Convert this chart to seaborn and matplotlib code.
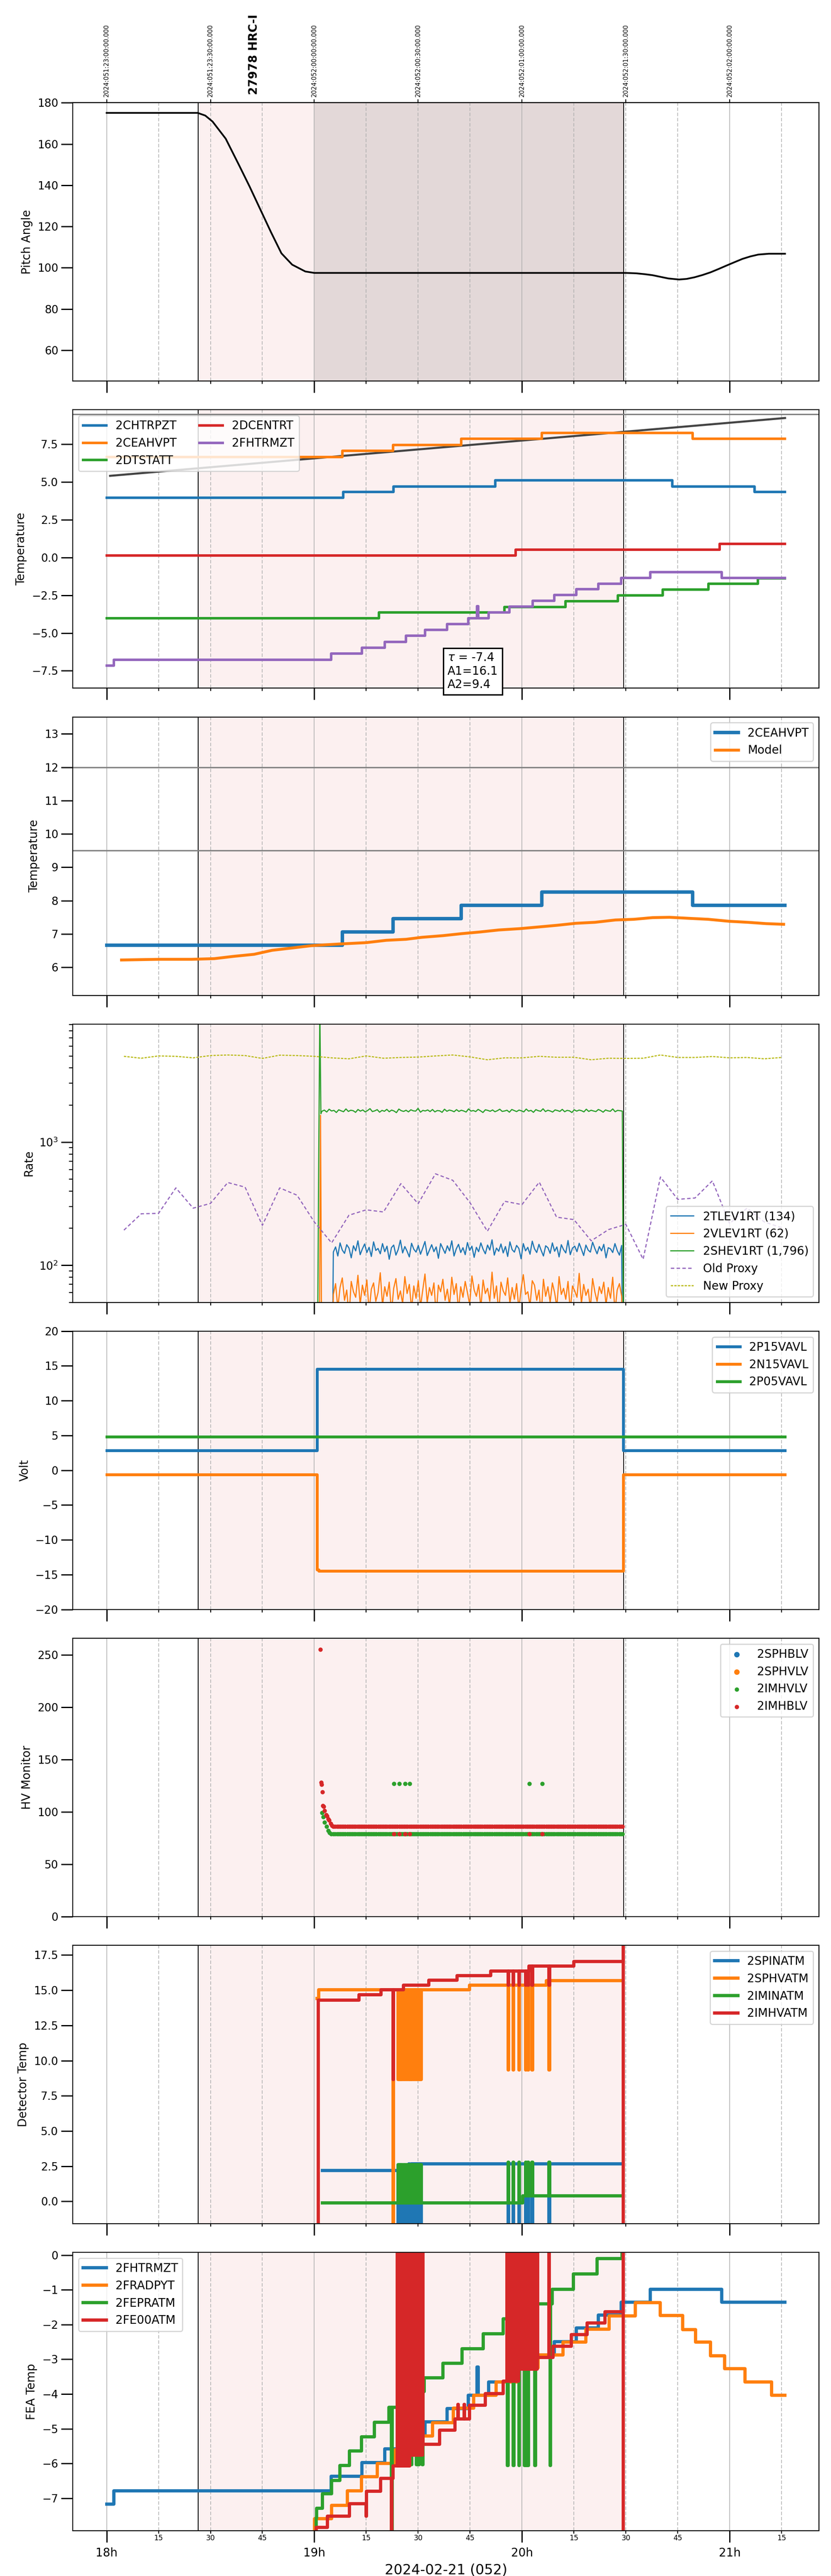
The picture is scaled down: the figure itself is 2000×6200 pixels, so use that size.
import numpy as np
import matplotlib
matplotlib.use("Agg")
import matplotlib.pyplot as plt
import matplotlib.transforms as mtransforms
from matplotlib.ticker import FixedLocator, FixedFormatter
import seaborn as sns

plt.rcParams["font.family"] = ["DejaVu Sans"]

# ---------------------------------------------------------------- data
# x values: minutes after 18:00 local time on 2024-02-21 (day 052)
obs_start, obs_end = 26.4, 149.4
science_start = 60.0
obs_title = "27978 HRC-I"
hour_ticks = [0, 60, 120, 180]
hour_labels = ["18h", "19h", "20h", "21h"]
quarter_ticks = [15, 30, 45, 75, 90, 105, 135, 150, 165, 195]
quarter_labels = ["15", "30", "45", "15", "30", "45", "15", "30", "45", "15"]
utc_ticks = [0, 30, 60, 90, 120, 150, 180]
utc_labels = ["2024:051:23:00:00.000", "2024:051:23:30:00.000",
              "2024:052:00:00:00.000", "2024:052:00:30:00.000",
              "2024:052:01:00:00.000", "2024:052:01:30:00.000",
              "2024:052:02:00:00.000"]
xlabel_text = "2024-02-21 (052)"

# panel 1 : pitch
pitch_t = [0, 10, 20, 26.3, 28.5, 30.6, 34.4, 38.3, 41.3, 44.4, 47.5, 50.5, 53.6,
           57.4, 60, 90, 120, 150, 153, 155.4, 157.7, 160, 162.3, 165.4, 167.6,
           169.9, 172.2, 174.5, 176.8, 179, 181.4, 183.7, 186, 188.3, 191.3, 196]
pitch_v = [175.1, 175.1, 175.1, 175.1, 173.8, 170.9, 162.6, 149.6, 139.4, 128.3,
           117.2, 107.0, 101.5, 98.2, 97.5, 97.5, 97.5, 97.5, 97.3, 96.9, 96.4,
           95.6, 94.8, 94.3, 94.6, 95.4, 96.5, 97.8, 99.4, 101.0, 102.7, 104.3,
           105.5, 106.4, 106.8, 106.8]

# panel 2 : temperatures
trend_t = [1.0, 196.0]
trend_v = [5.41, 9.24]
limit_lines = [12.0, 9.5]
chtrpzt_t = [0, 68.4, 82.9, 112.3, 163.4, 187.2, 196]
chtrpzt_v = [3.96, 4.34, 4.71, 5.11, 4.71, 4.33, 4.33]
ceahvpt_t = [0, 68.1, 82.8, 102.4, 125.7, 169.3, 196]
ceahvpt_v = [6.66, 7.06, 7.46, 7.86, 8.26, 7.86, 7.86]
dtstatt_t = [0, 78.7, 114.9, 132.6, 147.7, 160.7, 173.9, 188.2, 196]
dtstatt_v = [-4.03, -3.65, -3.27, -2.89, -2.51, -2.13, -1.73, -1.37, -1.37]
dcentrt_t = [0, 118.2, 177.1, 196]
dcentrt_v = [0.14, 0.52, 0.90, 0.90]
fhtrmzt_t = [0, 2.1, 64.9, 73.8, 80.4, 86.5, 92.0, 98.4, 104.5, 107.0, 107.4, 110.4,
             116.4, 123.1, 129.3, 135.7, 142.1, 148.7, 157.1, 177.7, 196]
fhtrmzt_v = [-7.17, -6.78, -6.37, -5.97, -5.58, -5.19, -4.80, -4.42, -4.03, -3.22,
             -4.03, -3.65, -3.26, -2.87, -2.49, -2.10, -1.73, -1.36, -0.98, -1.36, -1.36]
fit_text = "$\\tau$ = -7.4\nA1=16.1\nA2=9.4"

# panel 3 : model
model_t = [4.3, 15.3, 24.5, 31.1, 36.8, 42.6, 47.8, 53.6, 59.2, 67.4, 75.0, 80.8,
           86.5, 91.1, 97.2, 102.6, 107.9, 113.3, 119.4, 124.8, 130.1, 135.5, 141.1,
           147.0, 152.3, 157.7, 162.6, 168.1, 173.8, 179.9, 185.2, 190.6, 195.6]
model_v = [6.22, 6.24, 6.24, 6.26, 6.33, 6.39, 6.51, 6.58, 6.65, 6.70, 6.74, 6.81,
           6.84, 6.90, 6.95, 7.01, 7.06, 7.12, 7.16, 7.21, 7.26, 7.32, 7.35, 7.42,
           7.44, 7.49, 7.50, 7.47, 7.44, 7.38, 7.35, 7.31, 7.29]

# panel 4 : rates
tlev_lead_t = [65.3]
tlev_lead_v = [30]
tlev_noise = [128, 141, 119, 152, 133, 125, 147, 138, 115, 144, 131, 158, 122, 136, 149, 127, 140, 118, 155, 132,
              137, 124, 150, 129, 143, 112, 139, 146, 121, 134, 160, 126, 142, 130, 117, 151, 135, 128, 145, 123,
              138, 156, 120, 133, 147, 129, 141, 114, 150, 137, 125, 144, 131, 158, 119, 136, 148, 127, 139, 122,
              153, 132, 143, 116, 140, 129, 152, 135, 124, 146, 133, 161, 121, 138, 130, 149, 126, 142, 118, 155,
              134, 128, 145, 137, 113, 150, 131, 140, 123, 157, 136, 127, 148, 132, 119, 144, 139, 125, 152, 130,
              141, 117, 147, 134, 126, 159, 122, 138, 143, 129, 151, 135, 120, 146, 133, 128, 154, 137, 124, 142,
              131, 148, 115, 139, 136, 127, 150, 132, 121, 145]
vlev_lead_t = [61.5, 61.8, 62.1, 65.3]
vlev_lead_v = [30, 1650, 30, 30]
vlev_noise = [58, 71, 45, 66, 79, 52, 63, 38, 74, 61, 55, 83, 48, 69, 57, 76, 42, 64, 72, 51,
              60, 87, 47, 67, 56, 73, 41, 65, 78, 53, 62, 49, 81, 59, 70, 44, 68, 54, 75, 46,
              63, 85, 50, 66, 57, 72, 39, 69, 61, 77, 52, 64, 47, 80, 58, 71, 43, 67, 55, 74,
              60, 48, 82, 63, 56, 70, 45, 76, 59, 65, 51, 88, 54, 68, 41, 73, 62, 57, 79, 49,
              66, 53, 71, 44, 64, 84, 58, 61, 47, 75, 69, 52, 63, 40, 77, 56, 67, 50, 72, 60,
              46, 81, 58, 65, 53, 74, 43, 68, 62, 55, 86, 49, 70, 57, 64, 45, 78, 61, 51, 67,
              59, 73, 48, 66, 54, 80, 42, 63, 71, 56]
shev_lead_t = [61.0, 61.3, 61.6, 61.9]
shev_lead_v = [40, 900, 12000, 1700]
shev_noise = [1780, 1820, 1755, 1850, 1790, 1810, 1740, 1830, 1795, 1765, 1860, 1775, 1815, 1800, 1745, 1840, 1785, 1825, 1760, 1805,
              1870, 1770, 1795, 1835, 1750, 1810, 1780, 1845, 1765, 1820, 1790, 1735, 1855, 1800, 1775, 1815, 1760, 1830, 1795, 1785,
              1880, 1750, 1810, 1790, 1825, 1770, 1840, 1760, 1805, 1795, 1745, 1850, 1780, 1820, 1800, 1765, 1835, 1775, 1815, 1790,
              1755, 1860, 1785, 1805, 1770, 1845, 1795, 1740, 1830, 1810, 1780, 1825, 1765, 1800, 1850, 1775, 1790, 1815, 1750, 1840,
              1805, 1770, 1820, 1795, 1760, 1855, 1785, 1810, 1745, 1835, 1800, 1780, 1865, 1770, 1815, 1790, 1755, 1825, 1805, 1775,
              1845, 1765, 1810, 1795, 1740, 1830, 1785, 1820, 1800, 1760, 1850, 1775, 1815, 1790, 1770, 1840, 1805, 1750, 1825, 1795,
              1780, 1860, 1765, 1810, 1800, 1785]
rate_tail_v = 30
proxy_t = [5, 10, 15, 20, 25, 30, 35, 40, 45, 50, 55, 60, 65, 70, 75, 80, 85, 90, 95, 100,
           105, 110, 115, 120, 125, 130, 135, 140, 145, 150, 155, 160, 165, 170, 175, 180, 185, 190, 195]
old_proxy = [193, 262, 264, 425, 291, 318, 470, 431, 211, 425, 371, 225, 152, 255, 282, 271, 460, 316, 553, 490,
             322, 189, 331, 311, 473, 246, 235, 158, 195, 215, 112, 521, 343, 352, 485, 218, 291, 225, 202]
new_proxy = [4972, 4798, 5008, 4972, 4833, 5044, 5098, 5044, 4781, 5080, 5044, 4972, 4833, 4747, 5008, 4798, 4867, 4902, 5008, 5098,
             4920, 4663, 4833, 4833, 4972, 4885, 4885, 4663, 4798, 4781, 4798, 5098, 4867, 4867, 4955, 4833, 4867, 4747, 4867]

# panel 5 : voltages
p15_t = [0, 60.8, 149.2, 196]
p15_v = [2.85, 14.55, 2.85, 2.85]
n15_t = [0, 60.8, 61.3, 149.2, 196]
n15_v = [-0.62, -14.3, -14.46, -0.62, -0.62]
p05_t = [0, 196]
p05_v = [4.84, 4.84]

# panel 6 : HV monitor
imhb_head_t = [61.7, 62.0, 62.1, 62.3, 62.5, 62.7, 63.0, 63.4, 63.7, 64.0, 64.3, 64.7, 65.1]
imhb_head_v = [255, 128, 126, 119, 106, 105, 101, 97, 96, 93, 92, 89, 87]
imhv_head_t = [62.2, 62.6, 63.0, 63.5, 64.0, 64.4, 64.9]
imhv_head_v = [99, 95, 90, 86, 82, 80, 79]
imhb_level = 86.0
imhv_level = 79.0
hv_flat_start, hv_flat_end, hv_flat_step = 65.5, 149.2, 0.5
hv_swap_t = [83.0, 84.6, 86.2, 87.6, 122.1, 125.9]
imhv_swap_v = [127, 127, 127, 127, 127, 127]
imhb_swap_v = [79, 79, 79, 79, 79, 79]

# glitch times shared by detector / FEA temperatures
glitch_a = [84.2, 84.7, 85.2, 85.7, 86.2, 86.7, 87.2, 87.7, 88.2, 88.7, 89.2, 89.7, 90.2, 90.7]
glitch_b = [116.0, 117.4, 119.1, 121.0, 121.7, 122.9, 127.8]
glitch_c = [82.7]

# panel 7 : detector temperatures
spinatm_t = [62.3, 87.3, 148.8]
spinatm_v = [2.18, 2.68, 2.68]
sphvatm_t = [60.8, 61.3, 104.9, 127.0, 148.8]
sphvatm_v = [14.4, 15.02, 15.36, 15.67, 15.67]
iminatm_t = [62.3, 120.2, 148.8]
iminatm_v = [-0.10, 0.38, 0.38]
imhvatm_t = [61.2, 61.2, 72.9, 79.3, 85.7, 93.1, 101.3, 111.0, 122.0, 135.0, 149.2, 149.25, 149.3]
imhvatm_v = [-5, 14.30, 14.68, 15.02, 15.36, 15.70, 16.04, 16.36, 16.71, 17.05, 30, -5, -5]

# panel 8 : FEA temperatures
fradpyt_t = [60.1, 60.1, 65.0, 69.6, 73.6, 78.2, 83.4, 90.1, 94.1, 100.2, 106.1, 112.5, 119.0,
             124.7, 131.8, 138.5, 145.2, 152.8, 160.0, 166.4, 170.2, 174.5, 178.6, 184.4, 192.1, 196]
fradpyt_v = [-9, -7.59, -7.20, -6.78, -6.38, -6.00, -5.60, -5.20, -4.82, -4.40, -4.04, -3.65, -3.25,
             -2.88, -2.51, -2.13, -1.75, -1.37, -1.74, -2.14, -2.51, -2.90, -3.27, -3.65, -4.04, -4.04]
fepratm_t = [60.5, 60.5, 60.7, 62.3, 65.0, 67.4, 70.2, 73.6, 77.3, 81.6, 86.5, 91.7, 97.2, 102.7,
             108.8, 114.6, 122.0, 128.7, 134.8, 141.7, 148.9, 149.1]
fepratm_v = [-9, -7.56, -7.28, -6.87, -6.48, -6.05, -5.64, -5.23, -4.81, -4.38, -3.93, -3.53, -3.11,
             -2.70, -2.27, -1.83, -1.41, -0.98, -0.54, -0.10, 0.5, 0.5]
fe00atm_t = [60.6, 60.6, 63.8, 70.2, 74.9, 75.1, 79.1, 82.8, 87.4, 91.3, 96.2, 100.6, 104.9, 109.4,
             114.6, 119.0, 124.4, 129.0, 134.2, 138.8, 144.0, 149.2, 149.3, 149.4]
fe00atm_v = [-9, -7.83, -7.51, -7.15, -7.51, -6.79, -6.43, -6.07, -5.75, -5.45, -5.04, -4.71, -4.32,
             -3.99, -3.63, -3.28, -2.95, -2.62, -2.29, -1.96, -1.63, 0.5, -9, -9]
fe00_spike_a = [84.0, 84.3, 84.6, 84.9, 85.2, 85.5, 85.8, 86.1, 86.4, 86.7, 87.0, 87.3, 87.6, 87.9,
                88.2, 88.5, 88.8, 89.1, 89.4, 89.7, 90.0, 90.3, 90.6, 91.3]
fe00_spike_b = [115.6, 116.0, 116.4, 116.8, 117.2, 117.6, 118.0, 119.0, 119.4, 120.0, 120.4, 120.8,
                121.2, 121.6, 122.0, 122.4, 122.8, 123.2, 123.6, 124.0, 124.4, 127.8]
fe00_small = [101.5, 103.3]
fep_spike_a = [88.0, 89.5, 90.1, 91.2]
fep_spike_b = [115.8, 117.5, 119.1, 120.7, 121.2, 121.7, 123.7, 128.1]
fep_glitch = [82.3]


# ---------------------------------------------------------------- helpers
def with_spikes(t, v, spikes=(), width=0.18):
    pts = [(a, b, 0) for a, b in zip(t, v)]
    k = 1
    for times, val in spikes:
        for ts in times:
            base = v[0]
            for ti, vi in zip(t, v):
                if ti <= ts:
                    base = vi
            pts.append((ts, val, k))
            pts.append((ts + width, base, k + 1))
            k += 2
    pts.sort(key=lambda p: (p[0], p[2]))
    return [p[0] for p in pts], [p[1] for p in pts]


def step(ax, t, v, color, label=None, lw=2.5, **kw):
    sns.lineplot(x=list(t), y=list(v), ax=ax, color=color, lw=lw, label=label,
                 drawstyle="steps-post", estimator=None, sort=False, **kw)


C = sns.color_palette("tab10")
blue, orange, green, red, purple = C[0], C[1], C[2], C[3], C[4]
olive = C[8]

# ---------------------------------------------------------------- figure
fig, axes = plt.subplots(8, 1, figsize=(10, 31), dpi=200, sharex=True)
plt.subplots_adjust(left=0.0875, right=0.9855, top=0.9601, bottom=0.0176, hspace=0.103)
ax1, ax2, ax3, ax4, ax5, ax6, ax7, ax8 = axes

for ax in axes:
    ax.set_axisbelow(True)
    ax.axvspan(obs_start, obs_end, color="#fcf0f0", zorder=0, lw=0)
    ax.axvline(obs_start, color="black", lw=0.7, zorder=1)
    ax.axvline(obs_end, color="black", lw=0.7, zorder=1)
ax1.axvspan(science_start, obs_end, color="#e3d8d8", zorder=0, lw=0)

# 1 pitch
sns.lineplot(x=pitch_t, y=pitch_v, ax=ax1, color="black", lw=1.5, estimator=None, sort=False)
ax1.set_ylim(45, 180)
ax1.set_ylabel("Pitch Angle", fontsize=10)

# 2 temperatures
sns.lineplot(x=trend_t, y=trend_v, ax=ax2, color="#444444", lw=1.8, estimator=None, sort=False, zorder=1.5)
ax2.axhline(limit_lines[1], color="gray", lw=1.2)
step(ax2, chtrpzt_t, chtrpzt_v, blue, "2CHTRPZT", lw=2.2)
step(ax2, ceahvpt_t, ceahvpt_v, orange, "2CEAHVPT", lw=2.2)
step(ax2, dtstatt_t, dtstatt_v, green, "2DTSTATT", lw=2.2)
step(ax2, dcentrt_t, dcentrt_v, red, "2DCENTRT", lw=2.2)
step(ax2, fhtrmzt_t, fhtrmzt_v, purple, "2FHTRMZT", lw=2.2)
ax2.set_ylim(-8.66, 9.78)
ax2.set_ylabel("Temperature", fontsize=10)
ax2.legend(loc="upper left", ncol=2, fontsize=10)
ax2.text(98.5, 0.13, fit_text, transform=mtransforms.blended_transform_factory(ax2.transData, ax2.transAxes),
         ha="left", va="top", fontsize=10, zorder=10, clip_on=False,
         bbox=dict(boxstyle="square,pad=0.35", facecolor="white", edgecolor="black", lw=1.2))

# 3 model
for yl in limit_lines:
    ax3.axhline(yl, color="gray", lw=1.2)
step(ax3, ceahvpt_t, ceahvpt_v, blue, "2CEAHVPT", lw=3.0)
sns.lineplot(x=model_t, y=model_v, ax=ax3, color=orange, lw=2.5, label="Model", estimator=None, sort=False)
ax3.set_ylim(5.16, 13.51)
ax3.set_ylabel("Temperature", fontsize=10)
ax3.legend(loc="upper right", fontsize=10)

# 4 rates
ax4.set_yscale("log")
tlev_t = list(np.linspace(65.5, 148.8, len(tlev_noise)))
vlev_t = list(np.linspace(65.5, 148.8, len(vlev_noise)))
shev_t = list(np.linspace(62.2, 149.0, len(shev_noise)))
sns.lineplot(x=tlev_lead_t + tlev_t + [149.0], y=tlev_lead_v + tlev_noise + [rate_tail_v], ax=ax4,
             color=blue, lw=1.0, label="2TLEV1RT (134)", estimator=None, sort=False)
sns.lineplot(x=vlev_lead_t + vlev_t + [149.0], y=vlev_lead_v + vlev_noise + [rate_tail_v], ax=ax4,
             color=orange, lw=1.0, label="2VLEV1RT (62)", estimator=None, sort=False)
sns.lineplot(x=shev_lead_t + shev_t + [149.3], y=shev_lead_v + shev_noise + [rate_tail_v], ax=ax4,
             color=green, lw=1.0, label="2SHEV1RT (1,796)", estimator=None, sort=False)
sns.lineplot(x=proxy_t, y=old_proxy, ax=ax4, color=purple, lw=1.0, dashes=False,
             label="Old Proxy", estimator=None, sort=False, linestyle=(0, (3, 2)))
sns.lineplot(x=proxy_t, y=new_proxy, ax=ax4, color=olive, lw=1.0, dashes=False,
             label="New Proxy", estimator=None, sort=False, linestyle=(0, (2, 1)))
ax4.set_ylim(50, 9100)
ax4.set_ylabel("Rate", fontsize=10)
ax4.legend(loc="lower right", fontsize=10)

# 5 voltages
step(ax5, p15_t, p15_v, blue, "2P15VAVL")
step(ax5, n15_t, n15_v, orange, "2N15VAVL")
step(ax5, p05_t, p05_v, green, "2P05VAVL")
ax5.set_ylim(-20, 20)
ax5.set_ylabel("Volt", fontsize=10)
ax5.legend(loc="upper right", fontsize=10)

# 6 HV monitor
flat_t = list(np.arange(hv_flat_start, hv_flat_end + 0.01, hv_flat_step))
ax6.scatter([], [], s=14, color=blue, label="2SPHBLV")
ax6.scatter([], [], s=14, color=orange, label="2SPHVLV")
sns.scatterplot(x=imhv_head_t + flat_t + hv_swap_t,
                y=imhv_head_v + [imhv_level] * len(flat_t) + imhv_swap_v,
                ax=ax6, color=green, s=14, linewidth=0, label="2IMHVLV", zorder=3)
sns.scatterplot(x=imhb_head_t + flat_t + hv_swap_t,
                y=imhb_head_v + [imhb_level] * len(flat_t) + imhb_swap_v,
                ax=ax6, color=red, s=14, linewidth=0, label="2IMHBLV", zorder=4)
ax6.set_ylim(0, 266)
ax6.set_ylabel("HV Monitor", fontsize=10)
ax6.legend(loc="upper right", fontsize=10)

# 7 detector temperatures
t, v = with_spikes(spinatm_t, spinatm_v, [(glitch_a, -3), (glitch_b, -3)])
step(ax7, t, v, blue, "2SPINATM", lw=2.8)
t, v = with_spikes(sphvatm_t, sphvatm_v, [(glitch_c, -3), (glitch_a, 8.65), (glitch_b, 9.33)])
step(ax7, t, v, orange, "2SPHVATM", lw=2.8)
t, v = with_spikes(iminatm_t, iminatm_v, [(glitch_a, 2.6), (glitch_b, 2.78)])
step(ax7, t, v, green, "2IMINATM", lw=2.8)
t, v = with_spikes(imhvatm_t, imhvatm_v, [(glitch_c, 8.65), (glitch_b, 15.36)])
step(ax7, t, v, red, "2IMHVATM", lw=2.8)
ax7.set_ylim(-1.58, 18.2)
ax7.set_ylabel("Detector Temp", fontsize=10)
ax7.legend(loc="upper right", fontsize=10)

# 8 FEA temperatures
t, v = with_spikes(fhtrmzt_t, fhtrmzt_v)
step(ax8, t, v, blue, "2FHTRMZT", lw=2.8)
step(ax8, fradpyt_t, fradpyt_v, orange, "2FRADPYT", lw=2.8)
t, v = with_spikes(fepratm_t, fepratm_v, [(fep_glitch, -9), (fep_spike_a, -6.03), (fep_spike_b, -6.06)])
step(ax8, t, v, green, "2FEPRATM", lw=2.8)
t, v = with_spikes(fe00atm_t, fe00atm_v, [(fep_glitch, -9), (fe00_small, -4.30),
                                          (fe00_spike_a, 0.5), (fe00_spike_b, 0.5)], width=0.15)
step(ax8, t, v, red, "2FE00ATM", lw=2.8)
ax8.set_ylim(-7.93, 0.08)
ax8.set_ylabel("FEA Temp", fontsize=10)
ax8.legend(loc="upper left", fontsize=10)

# ---------------------------------------------------------------- axes styling
ax8.set_xlim(-9.8, 205.8)
ax8.xaxis.set_major_locator(FixedLocator(hour_ticks))
ax8.xaxis.set_minor_locator(FixedLocator(quarter_ticks))
ax8.xaxis.set_major_formatter(FixedFormatter(hour_labels))
ax8.xaxis.set_minor_formatter(FixedFormatter(quarter_labels))

for ax in axes:
    ax.grid(which="major", axis="x", color="#b0b0b0", lw=0.6, ls="-")
    ax.grid(which="minor", axis="x", color="#b0b0b0", lw=0.6, ls=(0, (5, 2.5)))
    ax.grid(which="both", axis="y", visible=False)
    ax.tick_params(axis="y", which="major", length=10, width=1.1, pad=2.5, labelsize=9.5)
    ax.tick_params(axis="y", which="minor", length=3.2, width=0.8)
    ax.tick_params(axis="x", which="major", length=10, width=1.1, pad=4.5, labelsize=10)
    ax.tick_params(axis="x", which="minor", length=2.5, width=0.8, pad=0.8, labelsize=6.2)
    ax.set_xlabel("")
for ax in axes[:-1]:
    ax.tick_params(axis="x", which="both", labelbottom=False)
ax8.set_xlabel(xlabel_text, fontsize=12)

sec = ax1.secondary_xaxis("top")
sec.set_xticks(utc_ticks)
sec.set_xticklabels(utc_labels, rotation=90, fontsize=5.3)
sec.tick_params(axis="x", length=3, width=0.8, pad=2)
ax1.text(42.5, 1.029, obs_title, transform=mtransforms.blended_transform_factory(ax1.transData, ax1.transAxes),
         rotation=90, ha="center", va="bottom", fontsize=10, fontweight="bold")

fig.savefig("out.png", dpi=200)
